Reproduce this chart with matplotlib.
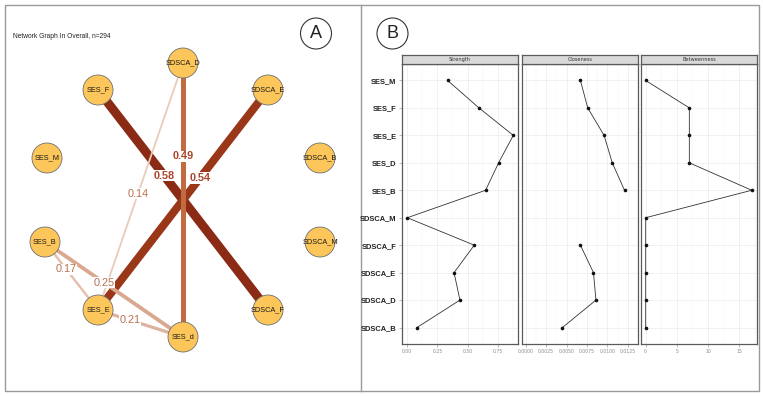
import numpy as np
import matplotlib.pyplot as plt
from matplotlib.patches import Circle, Rectangle

W, H = 763, 396

# ---- network data (panel A)
nodes = ["SDSCA_D", "SES_F", "SDSCA_E", "SES_M", "SDSCA_B",
         "SES_B", "SDSCA_M", "SES_E", "SDSCA_F", "SES_d"]
edge_from = ["SES_F", "SES_E", "SDSCA_D", "SDSCA_D", "SES_B", "SES_E", "SES_B"]
edge_to = ["SDSCA_F", "SDSCA_E", "SES_d", "SES_E", "SES_d", "SES_d", "SES_E"]
edge_w = [0.58, 0.54, 0.49, 0.14, 0.25, 0.21, 0.17]

# ---- centrality data (panel B)
cats = ["SES_M", "SES_F", "SES_E", "SES_D", "SES_B",
        "SDSCA_M", "SDSCA_F", "SDSCA_E", "SDSCA_D", "SDSCA_B"]
strength = [0.335, 0.595, 0.88, 0.758, 0.65, 0.0, 0.556, 0.388, 0.437, 0.08]
closeness = [0.0067, 0.0076, 0.0096, 0.0106, 0.0121, np.nan,
             0.0067, 0.0083, 0.0086, 0.0045]
betweenness = [0, 7, 7, 7, 17, 0, 0, 0, 0, 0]

# layout (pixel coords) and edge styling
pos = {"SDSCA_D": (183, 63), "SES_F": (98, 90), "SDSCA_E": (268, 90),
       "SES_M": (47, 158), "SDSCA_B": (320, 158), "SES_B": (45, 242),
       "SDSCA_M": (320, 242), "SES_E": (98, 310), "SDSCA_F": (268, 310),
       "SES_d": (183, 337)}
edge_col = ["#8C2B15", "#9A3719", "#C26B40", "#EACBB8", "#D9A88F", "#DDB39E", "#E4C0AC"]
edge_px = [9, 8, 5, 1.8, 3.8, 3.2, 2.4]
lab_frac = [0.39, 0.60, 0.34, 0.53, 0.43, 0.38, 0.40]

fig = plt.figure(figsize=(W / 100, H / 100), dpi=100)
ax0 = fig.add_axes([0, 0, 1, 1])
ax0.set_xlim(0, W)
ax0.set_ylim(H, 0)
ax0.axis("off")

# frames
ax0.add_patch(Rectangle((5, 4.5), 754, 386.5, fill=False, ec="#9a9a9a", lw=1.0))
ax0.plot([361, 361], [4.5, 391], color="#9a9a9a", lw=1.0)
for cx, t in [(316, "A"), (392.5, "B")]:
    ax0.add_patch(Circle((cx, 33.5), 15.5, fill=False, ec="#333333", lw=0.8))
    ax0.text(cx, 34, t, ha="center", va="center", fontsize=13,
             family="Liberation Sans", color="#222222")

ax0.text(13, 36, "Network Graph In Overall, n=294", fontsize=4.8,
         family="Liberation Sans", color="#222222", va="center")

# edges
for a, b, w, c, px in zip(edge_from, edge_to, edge_w, edge_col, edge_px):
    (x1, y1), (x2, y2) = pos[a], pos[b]
    ax0.plot([x1, x2], [y1, y2], color=c, lw=px * 0.72, solid_capstyle="butt", zorder=2)

for a, b, w, f in zip(edge_from, edge_to, edge_w, lab_frac):
    (x1, y1), (x2, y2) = pos[a], pos[b]
    x = x1 + (x2 - x1) * f
    y = y1 + (y2 - y1) * f
    bold = w > 0.4
    ax0.text(x, y, f"{w:.2f}", ha="center", va="center", fontsize=7.8,
             family="Liberation Sans", fontweight="bold" if bold else "normal",
             color="#A8452A" if bold else "#B8704F", zorder=3,
             bbox=dict(boxstyle="square,pad=0.05", fc="white", ec="none"))

# nodes
for n in nodes:
    x, y = pos[n]
    ax0.add_patch(Circle((x, y), 15, fc="#FDC65A", ec="#6f6f6f", lw=0.6, zorder=4))
    ax0.text(x, y, n, ha="center", va="center", fontsize=5.3,
             family="Liberation Sans", color="#1a1a1a", zorder=5)

# ---- facets
def facet(x0, x1, vals, xlim, ticks, labels, title, first):
    ax = fig.add_axes([x0 / W, (H - 344) / H, (x1 - x0) / W, 280 / H])
    yy = np.arange(len(cats))
    ax.plot(vals, yy, color="#333333", lw=0.6, zorder=3)
    ax.plot(vals, yy, "o", color="#111111", ms=1.6, zorder=4)
    ax.set_xlim(*xlim)
    ax.set_ylim(len(cats) - 0.4, -0.6)
    ax.set_xticks(ticks)
    ax.set_xticklabels(labels)
    mids = [(ticks[i] + ticks[i + 1]) / 2 for i in range(len(ticks) - 1)]
    mids.append(ticks[-1] + (ticks[1] - ticks[0]) / 2)
    ax.set_xticks(mids, minor=True)
    ax.set_yticks(yy)
    ax.grid(True, which="major", color="#EBEBEB", lw=0.5, zorder=0)
    ax.grid(True, which="minor", axis="x", color="#F3F3F3", lw=0.3, zorder=0)
    ax.set_axisbelow(True)
    for s in ax.spines.values():
        s.set_color("#5a5a5a")
        s.set_linewidth(0.9)
    ax.tick_params(axis="x", which="major", labelsize=3.3, colors="#8a8a8a",
                   length=2, width=0.4, pad=1.5)
    ax.tick_params(axis="x", which="minor", length=0)
    if first:
        ax.set_yticklabels(cats, fontsize=5.4, fontweight="bold",
                           family="Liberation Sans", color="#222222")
        ax.tick_params(axis="y", length=2, width=0.4, color="#8a8a8a", pad=2)
    else:
        ax.set_yticklabels([])
        ax.tick_params(axis="y", length=0)
    sa = fig.add_axes([x0 / W, (H - 64) / H, (x1 - x0) / W, 9 / H])
    sa.set_facecolor("#D9D9D9")
    sa.set_xticks([])
    sa.set_yticks([])
    for s in sa.spines.values():
        s.set_color("#5a5a5a")
        s.set_linewidth(0.9)
    sa.text(0.5, 0.5, title, ha="center", va="center", fontsize=3.6,
            color="#333333", transform=sa.transAxes)
    return ax

facet(402, 518, strength, (-0.044, 0.919), [0, 0.25, 0.5, 0.75],
      ["0.00", "0.25", "0.50", "0.75"], "Strength", True)
facet(522, 638, closeness, (-0.00045, 0.0127),
      [0, 0.0025, 0.005, 0.0075, 0.01, 0.0125],
      ["0.0000", "0.0025", "0.0050", "0.0075", "0.0100", "0.0125"], "Closeness", False)
facet(641, 757, betweenness, (-0.75, 17.85), [0, 5, 10, 15],
      ["0", "5", "10", "15"], "Betweenness", False)

fig.savefig("out.png", dpi=100)
